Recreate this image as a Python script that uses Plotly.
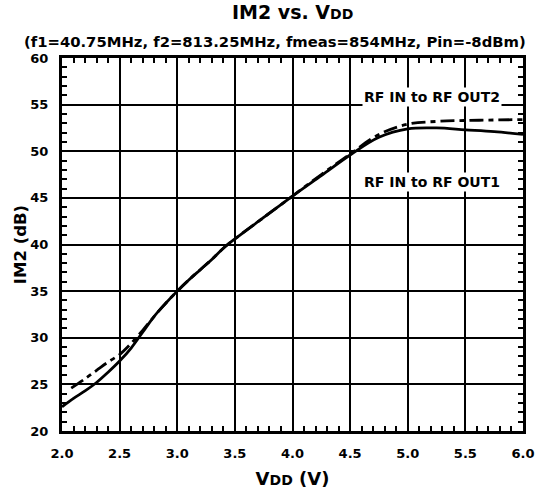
import plotly.graph_objects as go

# Supply voltage sweep (V) and measured IM2 (dB)
vdd_out1 = [2.0, 2.1, 2.2, 2.3, 2.4, 2.5, 2.6, 2.7, 2.8, 2.9, 3.0, 3.1, 3.2, 3.3, 3.4, 3.5,
            3.75, 4.0, 4.25, 4.5, 4.75, 5.0, 5.25, 5.5, 5.75, 6.0]
im2_out1 = [22.6, 23.5, 24.3, 25.2, 26.3, 27.5, 28.9, 30.6, 32.3, 33.7, 35.0, 36.2, 37.3, 38.4, 39.6, 40.6,
            42.9, 45.2, 47.4, 49.6, 51.5, 52.4, 52.5, 52.3, 52.1, 51.8]

vdd_out2 = [2.08, 2.2, 2.3, 2.4, 2.5, 2.6, 2.7, 2.8, 2.9, 3.0, 3.1, 3.2, 3.3, 3.4, 3.5,
            3.75, 4.0, 4.25, 4.5, 4.75, 5.0, 5.25, 5.5, 5.75, 6.0]
im2_out2 = [24.6, 25.6, 26.5, 27.4, 28.2, 29.4, 30.8, 32.3, 33.7, 35.0, 36.2, 37.3, 38.4, 39.6, 40.6,
            42.9, 45.2, 47.5, 49.7, 51.8, 52.9, 53.2, 53.3, 53.35, 53.4]

x_ticks = [2.0, 2.5, 3.0, 3.5, 4.0, 4.5, 5.0, 5.5, 6.0]
y_ticks = [20, 25, 30, 35, 40, 45, 50, 55, 60]

FONT = "DejaVu Sans, Arial, sans-serif"

fig = go.Figure()
fig.add_trace(go.Scatter(x=vdd_out1, y=im2_out1, mode="lines", line_shape="spline",
                         line=dict(color="black", width=2.8), showlegend=False,
                         cliponaxis=False))
fig.add_trace(go.Scatter(x=vdd_out2, y=im2_out2, mode="lines", line_shape="spline",
                         line=dict(color="black", width=2.8, dash="14px,5px,5px,5px"),
                         showlegend=False, cliponaxis=False))

axis_common = dict(
    showline=True, linecolor="black", linewidth=3, mirror="ticks",
    ticks="inside", ticklen=6, tickwidth=2, tickcolor="black",
    showgrid=True, gridcolor="black", gridwidth=2, zeroline=False, automargin=False,
    ticklabelstandoff=8,
    tickfont=dict(family=FONT, size=13, color="black", weight="bold"),
)

fig.update_xaxes(range=[2.0, 6.0], tickvals=x_ticks, ticktext=[f"{v:.1f}" for v in x_ticks],
                 minor=dict(dtick=0.1, ticks="inside", ticklen=5, tickcolor="black", tickwidth=2,
                            showgrid=False),
                 title=dict(text="V<span style='font-size:14px'>DD</span> (V)",
                            font=dict(family=FONT, size=18, color="black", weight="bold"),
                            standoff=13),
                 **axis_common)
fig.update_yaxes(range=[20, 60], tickvals=y_ticks,
                 minor=dict(dtick=1, ticks="inside", ticklen=5, tickcolor="black", tickwidth=2,
                            showgrid=False),
                 title=dict(text="IM2 (dB)",
                            font=dict(family=FONT, size=16.5, color="black", weight="bold"),
                            standoff=0),
                 **axis_common)

fig.add_annotation(x=5.21, y=55.8, text="RF IN to RF OUT2", showarrow=False,
                   bgcolor="white", font=dict(family=FONT, size=14, color="black", weight="bold"))
fig.add_annotation(x=5.21, y=46.7, text="RF IN to RF OUT1", showarrow=False,
                   bgcolor="white", font=dict(family=FONT, size=14, color="black", weight="bold"))

fig.add_annotation(xref="paper", yref="paper", x=0.5, y=1.0, yanchor="bottom", yshift=33,
                   xanchor="center",
                   text="IM2 vs. V<span style='font-size:14px'>DD</span>", showarrow=False,
                   font=dict(family=FONT, size=19, color="black", weight="bold"))
fig.add_annotation(xref="paper", yref="paper", x=-0.087, y=1.0, yanchor="bottom", yshift=6,
                   xanchor="left",
                   text="(f1=40.75MHz, f2=813.25MHz, fmeas=854MHz, Pin=-8dBm)", showarrow=False,
                   font=dict(family=FONT, size=14.8, color="black", weight="bold"))

fig.update_layout(width=536, height=497, margin=dict(l=62, r=13, t=58, b=66),
                  plot_bgcolor="white", paper_bgcolor="white")

fig.write_html("out.html")
